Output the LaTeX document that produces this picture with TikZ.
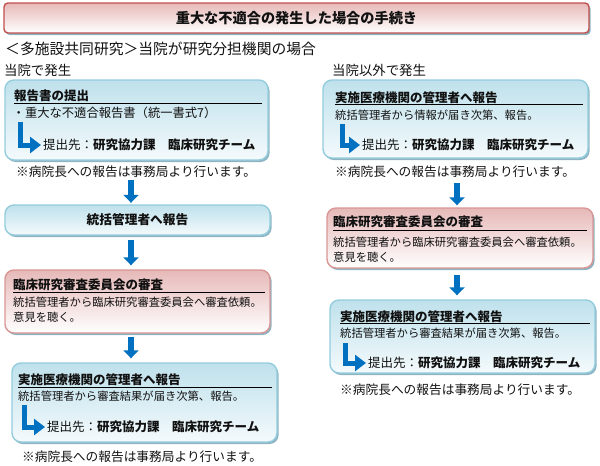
\documentclass[tikz,border=0pt]{standalone}
\usepackage{fontspec}
\setmainfont{Noto Sans CJK JP}
\usetikzlibrary{arrows.meta,shadows}
\definecolor{bluebd}{HTML}{93CDDD}
\definecolor{bluetop}{HTML}{BFE1EC}
\definecolor{bluebot}{HTML}{F4FAFC}
\definecolor{pinkbd}{HTML}{D99694}
\definecolor{pinktop}{HTML}{E6B9B8}
\definecolor{titlebd}{HTML}{C0504D}
\definecolor{shadowc}{HTML}{8EB4C3}
\definecolor{arrblue}{HTML}{0070C0}
\definecolor{txt}{HTML}{111111}
\tikzset{
  boxbase/.style={rectangle, rounded corners=9pt, line width=1.4pt, inner sep=0pt,
    drop shadow={shadow xshift=1.6pt, shadow yshift=-2pt, fill=shadowc, opacity=1}},
  bluebox/.style={boxbase, draw=bluebd, top color=bluetop, bottom color=bluebot},
  pinkbox/.style={boxbase, draw=pinkbd, top color=pinktop, bottom color=white},
  titlebox/.style={boxbase, rounded corners=4pt, draw=titlebd, top color=pinktop, bottom color=white},
  ttl/.style={anchor=west, inner sep=0pt, text=txt, font=\fontsize{12.5}{14}\selectfont\bfseries},
  body/.style={anchor=west, inner sep=0pt, text=txt, font=\fontsize{11.3}{13}\selectfont},
  note/.style={anchor=west, inner sep=0pt, text=txt, font=\fontsize{12.7}{14}\selectfont},
  subhead/.style={anchor=west, inner sep=0pt, text=txt, font=\fontsize{13.4}{15}\selectfont},
  dest/.style={anchor=west, inner sep=0pt, text=txt, font=\fontsize{12.5}{14}\selectfont},
  uline/.style={line width=0.9pt, draw=black},
  larr/.style={line width=5pt, draw=arrblue, -{Triangle[width=16pt,length=11pt]}},
  darr/.style={line width=6pt, draw=arrblue, -{Triangle[width=15pt,length=8pt]}},
}
\begin{document}
\begin{tikzpicture}[x=1pt,y=-1pt]
\useasboundingbox (0,0) rectangle (600,466);

% title
\node[titlebox, minimum width=585pt, minimum height=30pt, text=txt,
  font=\fontsize{14.2}{16}\selectfont\bfseries] (title) at (296.5,18) {重大な不適合の発生した場合の手続き};
\node[subhead, font=\fontsize{14.8}{16}\selectfont] (sub) at (5,49) {＜多施設共同研究＞当院が研究分担機関の場合};
\node[subhead] (lhead) at (4,70) {当院で発生};
\node[subhead] (rhead) at (332,70) {当院以外で発生};

% ---- left column ----
\node[bluebox, minimum width=263pt, minimum height=80pt] (b1) at (136.5,120) {};
\node[ttl] (b1t) at (14,96) {報告書の提出};
\draw[uline] (14,103) -- (262,103);
\node[body, font=\fontsize{12.3}{14}\selectfont] (b1l) at (12.5,113) {・重大な不適合報告書（統一書式7）};
\node[dest] (b1d) at (43,145) {提出先：\textbf{研究協力課　臨床研究チーム}};
\coordinate (b1a) at (20.5,122);
\draw[larr] (b1a) |- ([xshift=-2pt]b1d.west);
\node[note] (n1) at (16,172) {※病院長への報告は事務局より行います。};

\node[bluebox, minimum width=265pt, minimum height=30pt, text=txt,
  font=\fontsize{12.7}{14}\selectfont\bfseries] (b2) at (137.5,220) {統括管理者へ報告};

\node[pinkbox, minimum width=265pt, minimum height=63pt] (b3) at (137.5,301.5) {};
\node[ttl] (b3t) at (13,285) {臨床研究審査委員会の審査};
\draw[uline] (13,292) -- (265,292);
\node[body] (b3l1) at (13,302) {統括管理者から臨床研究審査委員会へ審査依頼。};
\node[body] (b3l2) at (13,317) {意見を聴く。};

\node[bluebox, minimum width=265pt, minimum height=79pt] (b4) at (144.5,402.5) {};
\node[ttl] (b4t) at (18,380) {実施医療機関の管理者へ報告};
\draw[uline] (18,387) -- (272,387);
\node[body] (b4l) at (18,396) {統括管理者から審査結果が届き次第、報告。};
\node[dest] (b4d) at (47,427) {提出先：\textbf{研究協力課　臨床研究チーム}};
\coordinate (b4a) at (24,405);
\draw[larr] (b4a) |- ([xshift=-2pt]b4d.west);
\node[note] (n4) at (22,457) {※病院長への報告は事務局より行います。};

\coordinate (a1) at (131,180);
\coordinate (a2) at (131,240);
\coordinate (a3) at (131,337);
\draw[darr] (a1) -- ([yshift=1.5pt]b2.north -| a1);
\draw[darr] (a2) -- ([yshift=4pt]b3.north -| a2);
\draw[darr] (a3) -- ([yshift=4pt]b4.north -| a3);

% ---- right column ----
\node[bluebox, minimum width=265pt, minimum height=78pt] (r1) at (455.5,119) {};
\node[ttl] (r1t) at (335,98) {実施医療機関の管理者へ報告};
\draw[uline] (335,104) -- (583,104);
\node[body] (r1l) at (335,115) {統括管理者から情報が届き次第、報告。};
\node[dest] (r1d) at (362,145) {提出先：\textbf{研究協力課　臨床研究チーム}};
\coordinate (r1a) at (342.5,124);
\draw[larr] (r1a) |- ([xshift=-2pt]r1d.west);
\node[note] (nr1) at (335,172) {※病院長への報告は事務局より行います。};

\node[pinkbox, minimum width=266pt, minimum height=60pt] (r2) at (460,238) {};
\node[ttl] (r2t) at (333,222) {臨床研究審査委員会の審査};
\draw[uline] (333,230) -- (587,230);
\node[body] (r2l1) at (333,242) {統括管理者から臨床研究審査委員会へ審査依頼。};
\node[body] (r2l2) at (333,257) {意見を聴く。};

\node[bluebox, minimum width=265pt, minimum height=73pt] (r3) at (462.5,336.5) {};
\node[ttl] (r3t) at (340,317) {実施医療機関の管理者へ報告};
\draw[uline] (340,323) -- (590,323);
\node[body] (r3l) at (340,333) {統括管理者から審査結果が届き次第、報告。};
\node[dest] (r3d) at (368,363) {提出先：\textbf{研究協力課　臨床研究チーム}};
\coordinate (r3a) at (345.5,343);
\draw[larr] (r3a) |- ([xshift=-2pt]r3d.west);
\node[note] (nr3) at (340,390) {※病院長への報告は事務局より行います。};

\coordinate (ra1) at (457,183);
\coordinate (ra2) at (457,275);
\draw[darr] (ra1) -- ([yshift=2pt]r2.north -| ra1);
\draw[darr] (ra2) -- ([yshift=4pt]r3.north -| ra2);
\end{tikzpicture}
\end{document}
